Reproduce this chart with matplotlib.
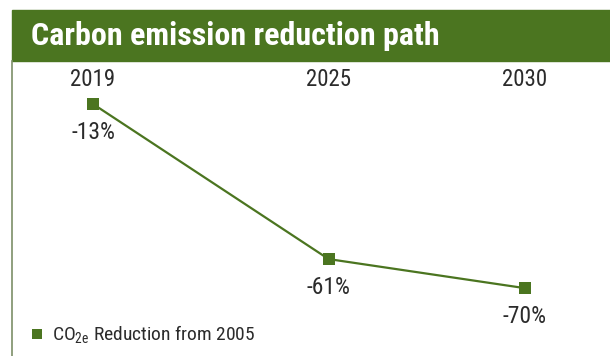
import matplotlib
matplotlib.use("Agg")
import matplotlib.pyplot as plt
from matplotlib import font_manager
from matplotlib.patches import Rectangle
from matplotlib.lines import Line2D

years = [2019, 2025, 2030]
reduction = [-13, -61, -70]
value_labels = ["-13%", "-61%", "-70%"]
title = "Carbon emission reduction path"
legend_label = r"CO$_{\mathrm{2e}}$ Reduction from 2005"

GREEN = "#4b7520"
TEXT = "#2b2b2b"
W, H = 610, 356

# pick a condensed face if there is one
have = {f.name for f in font_manager.fontManager.ttflist}
prefs = ["Roboto Condensed", "Liberation Sans Narrow", "DejaVu Sans Condensed",
         "Open Sans Condensed", "Roboto", "DejaVu Sans"]
face = next(p for p in prefs if p in have)
plt.rcParams["font.family"] = [face, "DejaVu Sans"]
plt.rcParams["mathtext.fontset"] = "custom"
plt.rcParams["mathtext.rm"] = face

fig = plt.figure(figsize=(W / 100, H / 100), dpi=100)

# header band + left rule
fig.patches.append(Rectangle((12 / W, 1 - 61 / H), 1 - 12 / W, 51 / H,
                             transform=fig.transFigure, color=GREEN, zorder=0))
fig.lines.append(Line2D([12.5 / W, 12.5 / W], [0, 1 - 61 / H],
                        transform=fig.transFigure, color="#7d8f68", lw=1.2))
fig.text(31 / W, 1 - 36 / H, title, color="white", fontsize=23,
         fontweight="bold", va="center", ha="left", fontstretch="condensed")

ax = fig.add_axes([13 / W, 0, 1 - 13 / W, 1 - 61 / H])
ax.plot(years, reduction, color=GREEN, lw=1.6, marker="s", ms=8,
        markeredgewidth=0, zorder=3)
year_y = (H - 80) / (H - 61)
for x, y, lab in zip(years, reduction, value_labels):
    ax.text(x, year_y, str(x), transform=ax.get_xaxis_transform(),
            ha="center", va="center", fontsize=16.5, color=TEXT)
    ax.annotate(lab, (x, y), xytext=(0, -28), textcoords="offset pixels",
                ha="center", va="center", fontsize=17, color=TEXT)

ax.set_xlim(2016.963, 2032.165)
ax.set_ylim(-91.0, 0.31)
ax.axis("off")

ax.plot([], [], "s", color=GREEN, ms=7, markeredgewidth=0, label=legend_label)
leg = ax.legend(loc="lower left", bbox_to_anchor=(0.012, 0.0), frameon=False,
                fontsize=14, handlelength=0.7, handletextpad=0.45,
                labelcolor=TEXT, borderaxespad=0.1)
leg.get_lines()[0].set_linestyle("none")

fig.savefig("out.png", dpi=100, facecolor="white")
